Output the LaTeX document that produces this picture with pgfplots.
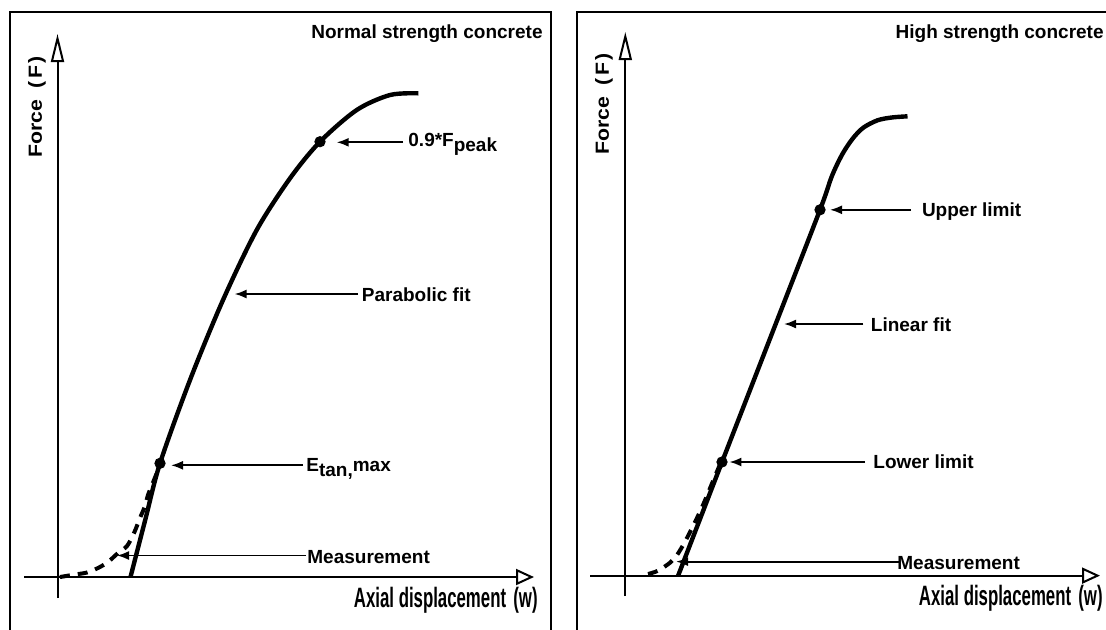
\documentclass[border=0pt]{standalone}
\usepackage{fontspec}
\setmainfont{Liberation Sans}
\usepackage{graphicx}
\usepackage{pgfplots}
\pgfplotsset{compat=1.18}
\usetikzlibrary{arrows.meta}
\newcommand{\lbl}{\bfseries\fontsize{9.5}{11}\selectfont}
\begin{document}
\begin{tikzpicture}
\useasboundingbox (0,0) rectangle (553pt,314.5pt);
\clip (0,0) rectangle (553pt,314.5pt);
\begin{axis}[at={(0,0)},anchor=south west,scale only axis,
  width=553pt,height=314.5pt,xmin=0,xmax=1106,ymin=0,ymax=629,
  y dir=reverse,hide axis,clip=false]
% frames
\draw[line width=1.1pt] (10,640) -- (10,12) -- (551,12) -- (551,640);
\draw[line width=1.1pt] (577,640) -- (577,12) -- (1120,12);
% axes left
\draw[line width=1pt,-{Triangle[open,length=14pt,width=6.5pt]}] (57.5,598) -- (57.5,34);
\draw[line width=1pt,-{Triangle[open,length=9pt,width=8pt]}] (24,577) -- (534,577);
% axes right
\draw[line width=1pt,-{Triangle[open,length=14pt,width=6.5pt]}] (625.3,596) -- (625.3,32);
\draw[line width=1pt,-{Triangle[open,length=9pt,width=8pt]}] (590,575.6) -- (1100,575.6);
% left curves
\addplot[line width=2.2pt,smooth] coordinates {
(130.5,577) (145.2,520) (160,463.3) (190,380) (223,300) (256.7,230)
(290,178.3) (320,141.7) (356.7,110) (390,95) (418.3,93.3)};
\addplot[line width=2pt,dash pattern=on 5pt off 4pt,smooth] coordinates {
(60,577) (75,574.5) (87,572.5) (98,568) (108,562) (118,553) (127,546)
(134,533) (140,518) (145,506) (148,495) (152,485) (156,475) (160,465)};
\addplot[only marks,mark=*,mark size=2.6pt] coordinates {(160,463.3) (320,141.7)};
% right curves
\addplot[line width=2.2pt,smooth] coordinates {
(678,576) (700,519) (722,462) (771,336) (820,209.8) (831.7,176.5) (842.2,154.4)
(852.8,138.4) (863.4,127.6) (877.5,120.3) (891.6,117.5) (907.5,116.3)};
\addplot[line width=2pt,dash pattern=on 5pt off 4pt,smooth] coordinates {
(648,574) (658,570.7) (670,562.7) (677,555) (685,541.7) (693,526)
(700,511.7) (706,498) (713,481) (721,462)};
\addplot[only marks,mark=*,mark size=2.6pt] coordinates {(722,462) (820,209.8)};
% annotation arrows
\tikzset{ann/.style={line width=0.9pt,-{Latex[length=6pt,width=4.5pt]}}}
\draw[ann] (403,142.3) -- (336.7,142.3);
\draw[ann] (358,294) -- (234.6,294);
\draw[ann] (303,465.3) -- (171,465.3);
\draw[ann] (306,555.5) -- (117,555.5);
\draw[ann] (911,209.8) -- (830,209.8);
\draw[ann] (863.4,324) -- (784,324);
\draw[ann] (865,462) -- (729.4,462);
\draw[ann] (900,561.6) -- (676,561.6);
% texts
\tikzset{tx/.style={anchor=base west,inner sep=0pt,font=\lbl}}
\node[tx] at (408,146.7) {0.9*F\raisebox{-0.5ex}{peak}};
\node[tx] at (361.5,301) {Parabolic fit};
\node[tx] at (306,471) {E\raisebox{-0.5ex}{tan,}max};
\node[tx] at (307,563.6) {Measurement};
\node[tx,anchor=base east] at (543,38) {Normal strength concrete};
\node[tx] at (921.6,216.6) {Upper limit};
\node[tx] at (870.5,331) {Linear fit};
\node[tx] at (873,468.5) {Lower limit};
\node[tx] at (897,569.6) {Measurement};
\node[tx,anchor=base east] at (1104,38.5) {High strength concrete};
% axis labels
\node[anchor=base east,inner sep=0pt,font=\bfseries\fontsize{14}{16}\selectfont] at (538,607.3) {\scalebox{0.6}[1]{Axial displacement\hspace{6pt}(w)}};
\node[anchor=base east,inner sep=0pt,font=\bfseries\fontsize{14}{16}\selectfont] at (1103,605.7) {\scalebox{0.6}[1]{Axial displacement\hspace{6pt}(w)}};
\node[rotate=90,inner sep=0pt,font=\lbl] at (37,107) {\scalebox{1.12}[1]{Force\hspace{5pt}(\hspace{1pt}F\hspace{1pt})}};
\node[rotate=90,inner sep=0pt,font=\lbl] at (604,104) {\scalebox{1.12}[1]{Force\hspace{5pt}(\hspace{1pt}F\hspace{1pt})}};
\end{axis}
\end{tikzpicture}
\end{document}
